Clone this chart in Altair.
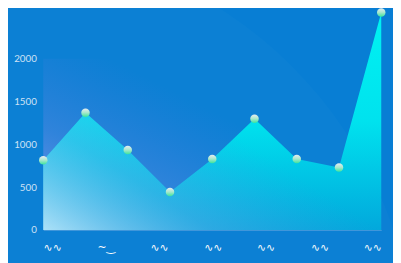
import altair as alt
import pandas as pd

# ---- data ----
x_index = [0, 1, 2, 3, 4, 5, 6, 7, 8]
values = [815, 1370, 935, 445, 830, 1300, 830, 730, 2540]
y_ticks = [0, 500, 1000, 1500, 2000]
x_label_pos = [0.21, 1.48, 2.74, 4.01, 5.26, 6.54, 7.79]
x_labels = ["∿∿", "~‿", "∿∿", "∿∿", "∿∿", "∿∿", "∿∿"]

df = pd.DataFrame({"x": x_index, "v": values})

W, H = 345, 223
x_scale = alt.Scale(domain=[0, 8], nice=False, zero=False)
y_scale = alt.Scale(domain=[0, 2550], nice=False)

keys = "[" + ",".join(str(round(p * 100)) for p in x_label_pos) + "]"
labs = "[" + ",".join("'" + s + "'" for s in x_labels) + "]"
label_expr = f"{labs}[indexof({keys}, round(datum.value*100))]"

x_axis = alt.Axis(values=x_label_pos, labelExpr=label_expr, title=None, grid=False,
                  ticks=False, domain=True, domainColor="#3f96da", domainWidth=1,
                  labelColor="#ffffff", labelFontSize=11, labelPadding=12,
                  labelFont="DejaVu Sans")
y_axis = alt.Axis(values=y_ticks, title=None, grid=False, ticks=False, domain=False,
                  format="d",
                  labelColor="#cfe2f4", labelFontSize=10, labelPadding=7, labelFont="Lato")

# decorative faint arc in background
arc = alt.Chart(pd.DataFrame({"a": [0]})).mark_arc(
    radius=430, theta=0, theta2=6.2832, fill="#ffffff", fillOpacity=0.018
).encode(x=alt.value(-50), y=alt.value(360))

# purple-ish gradient panel behind the area
panel_df = pd.DataFrame({"x0": [0], "x1": [8], "y0": [0], "y1": [2000]})
panel = alt.Chart(panel_df).mark_rect(
    fill=alt.Gradient(gradient="linear", x1=0, y1=1, x2=1, y2=0,
                      stops=[alt.GradientStop(offset=0, color="rgba(170,170,245,0.8)"),
                             alt.GradientStop(offset=0.3, color="rgba(130,140,235,0.3)"),
                             alt.GradientStop(offset=0.6, color="rgba(100,120,230,0)")])
).encode(
    x=alt.X("x0:Q", scale=x_scale, axis=x_axis),
    x2="x1:Q",
    y=alt.Y("y0:Q", scale=y_scale, axis=y_axis),
    y2="y1:Q",
)

base = alt.Chart(df).encode(
    x=alt.X("x:Q", scale=x_scale, axis=x_axis),
    y=alt.Y("v:Q", scale=y_scale, axis=y_axis),
)

area = base.mark_area(
    fill=alt.Gradient(gradient="linear", x1=0, y1=0, x2=0, y2=1,
                      stops=[alt.GradientStop(offset=0, color="#00f2f2"),
                             alt.GradientStop(offset=0.5, color="#00e2ee"),
                             alt.GradientStop(offset=1, color="#02a8dc")])
)

area_glow = base.mark_area(
    fill=alt.Gradient(gradient="linear", x1=0, y1=1, x2=1, y2=0,
                      stops=[alt.GradientStop(offset=0, color="rgba(215,240,255,0.8)"),
                             alt.GradientStop(offset=0.25, color="rgba(110,170,235,0.4)"),
                             alt.GradientStop(offset=0.5, color="rgba(80,150,230,0)")])
)

points = base.mark_circle(
    size=75, opacity=1,
    fill=alt.Gradient(gradient="linear", x1=0, y1=0, x2=0, y2=1,
                      stops=[alt.GradientStop(offset=0, color="#e6ecf2"),
                             alt.GradientStop(offset=0.5, color="#a8e8cc"),
                             alt.GradientStop(offset=1, color="#3ee49c")])
)

chart = alt.layer(arc, panel, area, area_glow, points).properties(
    width=W, height=H,
    autosize=alt.AutoSizeParams(type="none"),
    padding={"left": 36, "top": 1, "right": 12, "bottom": 31},
    background="#087ed4",
).configure_view(stroke=None)

chart.save("out.html", embed_options={"renderer": "svg", "actions": False})
